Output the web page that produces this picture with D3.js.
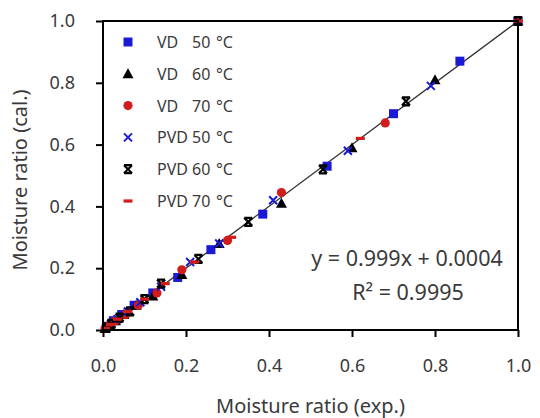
<!DOCTYPE html>
<html>
<head>
<meta charset="utf-8">
<script src="https://cdn.jsdelivr.net/npm/d3@7"></script>
<style>
  body { margin: 0; background: #fff; }
  text { font-family: "Noto Sans", "DejaVu Sans", sans-serif; fill: #3a3a3a; }
</style>
</head>
<body>
<div id="chart"></div>
<script>
// legend labels: drying method and temperature
const seriesMethods = ['VD', 'VD', 'VD', 'PVD', 'PVD', 'PVD'];
const seriesTemps = ['50', '60', '70', '50', '60', '70'];

// experimental / calculated moisture ratios per series
const vd50Exp = [1, 0.86, 0.70, 0.54, 0.385, 0.26, 0.18, 0.12, 0.075, 0.045, 0.025, 0.01];
const vd50Cal = [1, 0.87, 0.70, 0.53, 0.375, 0.26, 0.17, 0.12, 0.08, 0.05, 0.03, 0.012];
const vd60Exp = [1, 0.80, 0.60, 0.43, 0.28, 0.19, 0.12, 0.08, 0.05, 0.03, 0.015, 0.005];
const vd60Cal = [1, 0.81, 0.59, 0.41, 0.28, 0.18, 0.11, 0.08, 0.05, 0.03, 0.015, 0.005];
const vd70Exp = [1, 0.68, 0.43, 0.30, 0.19, 0.13, 0.085, 0.055, 0.03, 0.015, 0.005];
const vd70Cal = [1, 0.67, 0.445, 0.29, 0.195, 0.12, 0.08, 0.05, 0.03, 0.015, 0.005];
const pvd50Exp = [1, 0.79, 0.59, 0.41, 0.28, 0.21, 0.14, 0.09, 0.06, 0.035, 0.02, 0.008];
const pvd50Cal = [1, 0.79, 0.58, 0.42, 0.28, 0.22, 0.14, 0.09, 0.06, 0.035, 0.02, 0.008];
const pvd60Exp = [1, 0.73, 0.53, 0.35, 0.23, 0.14, 0.10, 0.065, 0.04, 0.02, 0.008];
const pvd60Cal = [1, 0.74, 0.52, 0.35, 0.23, 0.15, 0.10, 0.06, 0.04, 0.02, 0.008];
const pvd70Exp = [1, 0.62, 0.31, 0.22, 0.15, 0.10, 0.06, 0.035, 0.018, 0.006];
const pvd70Cal = [1, 0.62, 0.30, 0.22, 0.15, 0.10, 0.06, 0.035, 0.018, 0.006];

const axisTicks = [0, 0.2, 0.4, 0.6, 0.8, 1.0];
const fitSlope = 0.999, fitIntercept = 0.0004;

const W = 540, H = 418;
const margin = { top: 21, right: 22, bottom: 88, left: 103 };

const svg = d3.select('#chart').append('svg')
  .attr('width', W).attr('height', H);

const x = d3.scaleLinear().domain([0, 1]).range([margin.left, W - margin.right]);
const y = d3.scaleLinear().domain([0, 1]).range([H - margin.bottom, margin.top]);

const blue = '#1a1ad6', red = '#d21c1c';
const series = [
  { exp: vd50Exp, cal: vd50Cal, type: 'square', color: blue },
  { exp: vd60Exp, cal: vd60Cal, type: 'triangle', color: '#000' },
  { exp: vd70Exp, cal: vd70Cal, type: 'circle', color: red },
  { exp: pvd50Exp, cal: pvd50Cal, type: 'cross', color: blue },
  { exp: pvd60Exp, cal: pvd60Cal, type: 'bowtie', color: '#000' },
  { exp: pvd70Exp, cal: pvd70Cal, type: 'dash', color: red }
];

// one marker centred at 0,0
function marker(g, type, color) {
  if (type === 'square') {
    g.append('rect').attr('x', -4.5).attr('y', -4.5).attr('width', 9).attr('height', 9).attr('fill', color);
  } else if (type === 'triangle') {
    g.append('path').attr('d', 'M0,-5.5L5.5,4.5L-5.5,4.5Z').attr('fill', color);
  } else if (type === 'circle') {
    g.append('circle').attr('r', 4.6).attr('fill', color);
  } else if (type === 'cross') {
    g.append('path').attr('d', 'M-4,-4L4,4M4,-4L-4,4').attr('stroke', color).attr('stroke-width', 2);
  } else if (type === 'bowtie') {
    g.append('path').attr('d', 'M-4,-4L4,4M4,-4L-4,4M-4,-4H4M-4,4H4').attr('stroke', color).attr('stroke-width', 2.2);
  } else if (type === 'dash') {
    g.append('rect').attr('x', -4.5).attr('y', -1.6).attr('width', 9).attr('height', 3.2).attr('fill', color);
  }
}

// fit line
svg.append('line')
  .attr('x1', x(0)).attr('y1', y(fitIntercept))
  .attr('x2', x(1)).attr('y2', y(fitSlope + fitIntercept))
  .attr('stroke', '#333').attr('stroke-width', 1.3);

// points
series.forEach(s => {
  s.exp.forEach((v, i) => {
    const g = svg.append('g').attr('transform', `translate(${x(v)},${y(s.cal[i])})`);
    marker(g, s.type, s.color);
  });
});

// frame
svg.append('rect')
  .attr('x', x(0)).attr('y', y(1))
  .attr('width', x(1) - x(0)).attr('height', y(0) - y(1))
  .attr('fill', 'none').attr('stroke', '#000').attr('stroke-width', 2);

// axes
const xAxis = svg.append('g')
  .attr('transform', `translate(0,${y(0)})`)
  .call(d3.axisBottom(x).tickValues(axisTicks).tickFormat(d3.format('.1f')).tickSize(7).tickPadding(22));
const yAxis = svg.append('g')
  .attr('transform', `translate(${x(0)},0)`)
  .call(d3.axisLeft(y).tickValues(axisTicks).tickFormat(d3.format('.1f')).tickSize(7).tickPadding(21));
[xAxis, yAxis].forEach(a => {
  a.select('.domain').remove();
  a.selectAll('.tick line').attr('stroke', '#000').attr('stroke-width', 2);
  a.selectAll('.tick text').attr('font-size', 18)
    .style('font-family', '"Noto Sans", sans-serif').attr('fill', '#3a3a3a');
});

// axis titles
svg.append('text')
  .attr('x', (x(0) + x(1)) / 2).attr('y', 413)
  .attr('text-anchor', 'middle').attr('font-size', 20)
  .text('Moisture ratio (exp.)');
svg.append('text')
  .attr('transform', `translate(27,180) rotate(-90)`)
  .attr('text-anchor', 'middle').attr('font-size', 20)
  .text('Moisture ratio (cal.)');

// legend
series.forEach((s, i) => {
  const row = svg.append('g').attr('transform', `translate(128,${42 + i * 31.8})`);
  marker(row, s.type, s.color);
  row.append('text').attr('x', 29).attr('y', 6).attr('font-size', 16).text(seriesMethods[i]);
  row.append('text').attr('x', 64).attr('y', 6).attr('font-size', 16).text(seriesTemps[i]);
  row.append('text').attr('x', 88).attr('y', 6).attr('font-size', 16).text('\u00B0C');
});

// regression text
svg.append('text')
  .attr('x', 407).attr('y', 266).attr('text-anchor', 'middle').attr('font-size', 21.5)
  .text('y = 0.999x + 0.0004');
svg.append('text')
  .attr('x', 408).attr('y', 300).attr('text-anchor', 'middle').attr('font-size', 21.5)
  .text('R\u00B2 = 0.9995');
</script>
</body>
</html>
